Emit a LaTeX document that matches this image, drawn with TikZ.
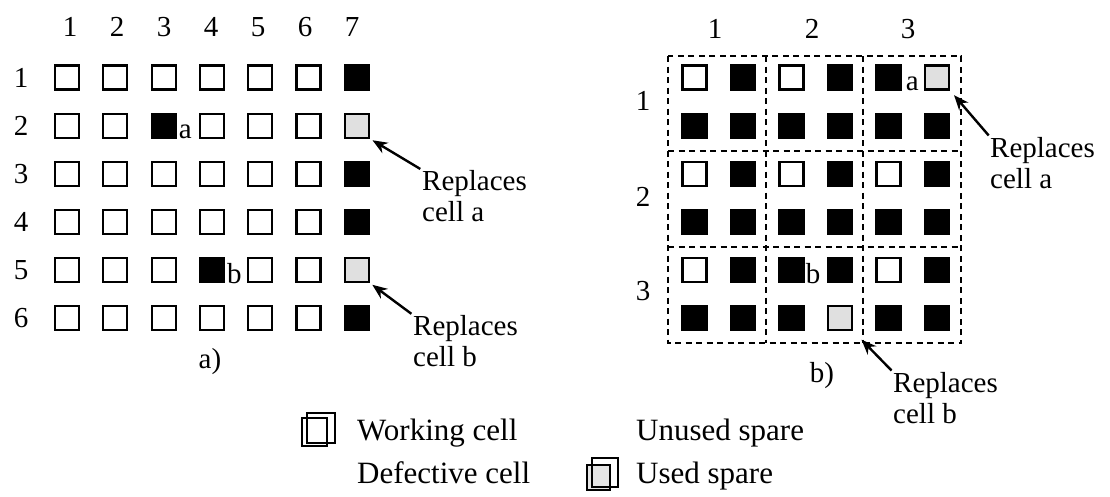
\documentclass[tikz,border=0pt]{standalone}
\usepackage{fontspec}
\setmainfont{Liberation Serif}
\usetikzlibrary{arrows.meta}

\begin{document}
\begin{tikzpicture}[
    x=1pt, y=-1pt,
    every node/.style={font=\fontsize{29}{31}\selectfont, inner sep=0pt},
    cell/.style={draw, line width=2.2pt, minimum size=24pt},
    cell w/.style={fill=white},
    cell d/.style={fill=black},
    cell s/.style={fill=black},
    cell u/.style={fill=black!12},
    grid line/.style={line width=2pt, dash pattern=on 6pt off 4.5pt},
    pointer/.style={line width=2.4pt, -{Stealth[length=15pt,width=12pt]}},
    legend/.style={font=\fontsize{31}{33}\selectfont, anchor=base west}
]
\useasboundingbox (0,0) rectangle (1110,496);

% === a) spare column ===
\foreach \c in {1,...,7}
    \node (acol\c) at (70+47*\c-47,27) {\c};

\foreach \r/\row in {1/{w,w,w,w,w,w,s}, 2/{w,w,d,w,w,w,u}, 3/{w,w,w,w,w,w,s},
                     4/{w,w,w,w,w,w,s}, 5/{w,w,w,d,w,w,u}, 6/{w,w,w,w,w,w,s}} {
    \node (arow\r) at (21,77.5+48.1*\r-48.1) {\r};
    \foreach \t [count=\c] in \row
        \node[cell, cell \t] (a-\r-\c) at (67+48.3*\c-48.3,77.5+48.1*\r-48.1) {};
}

% defective cells
\node[anchor=base west] (amark) at ([xshift=2pt]a-2-3.south east) {a};
\node[anchor=base west] (bmark) at ([xshift=2pt]a-5-4.south east) {b};

\node (acap) at (210,362) {a)};

% replacement notes
\node[anchor=north west, align=left] (arepa) at (422,170) {Replaces\\cell a};
\node[anchor=north west, align=left] (arepb) at (413,315) {Replaces\\cell b};
\draw[pointer, shorten <=2pt, shorten >=3pt] (arepa.north west) -- (a-2-7.south east);
\draw[pointer, shorten <=2pt, shorten >=3pt] (arepb.north west) -- (a-5-7.south east);

% === b) spares inside 2x2 blocks ===
\foreach \k/\x in {1/715, 2/812, 3/908}
    \node (bcol\k) at (\x,29) {\k};
\foreach \k/\y in {1/101, 2/197, 3/291}
    \node (brow\k) at (643,\y) {\k};

\foreach \r/\row in {1/{w,s,w,s,d,u}, 2/{s,s,s,s,s,s}, 3/{w,s,w,s,w,s},
                     4/{s,s,s,s,s,s}, 5/{w,s,d,s,w,s}, 6/{s,s,s,u,s,s}} {
    \foreach \t [count=\c] in \row
        \node[cell, cell \t] (b-\r-\c) at (694.5+48.5*\c-48.5,77.5+48.1*\r-48.1) {};
}

% block borders
\draw[grid line] (668,56) rectangle (961,343);
\foreach \x in {766,863}
    \draw[grid line] (\x,56) -- (\x,343);
\foreach \y in {151,247}
    \draw[grid line] (668,\y) -- (961,\y);

\node[anchor=base west] (bmarka) at ([xshift=4pt]b-1-5.south east) {a};
\node[anchor=base west] (bmarkb) at ([xshift=1pt]b-5-3.south east) {b};

\node (bcap) at (822,376) {b)};

\node[anchor=north west, align=left] (brepa) at (990,137) {Replaces\\cell a};
\node[anchor=north west, align=left] (brepb) at (893,372) {Replaces\\cell b};
\draw[pointer, shorten <=2pt, shorten >=6pt] (brepa.north west) -- (b-1-6.south east);
\draw[pointer, shorten <=2pt, shorten >=12pt] (brepb.north west) -- (b-6-4.south east);

% === legend ===
\draw[line width=2.6pt] (302,418) rectangle (327,446);
\draw[line width=2.6pt] (307,413) rectangle (335,443);
\node[legend] (lwork) at (357,440) {Working cell};
\node[legend] (lunused) at (636,440) {Unused spare};
\node[legend] (ldef) at (357,483) {Defective cell};
\draw[line width=2.6pt, fill=black!10] (587,465) rectangle (610,490);
\draw[line width=2.6pt] (592,458) rectangle (618,487);
\node[legend] (lused) at (636,483) {Used spare};

\end{tikzpicture}
\end{document}
